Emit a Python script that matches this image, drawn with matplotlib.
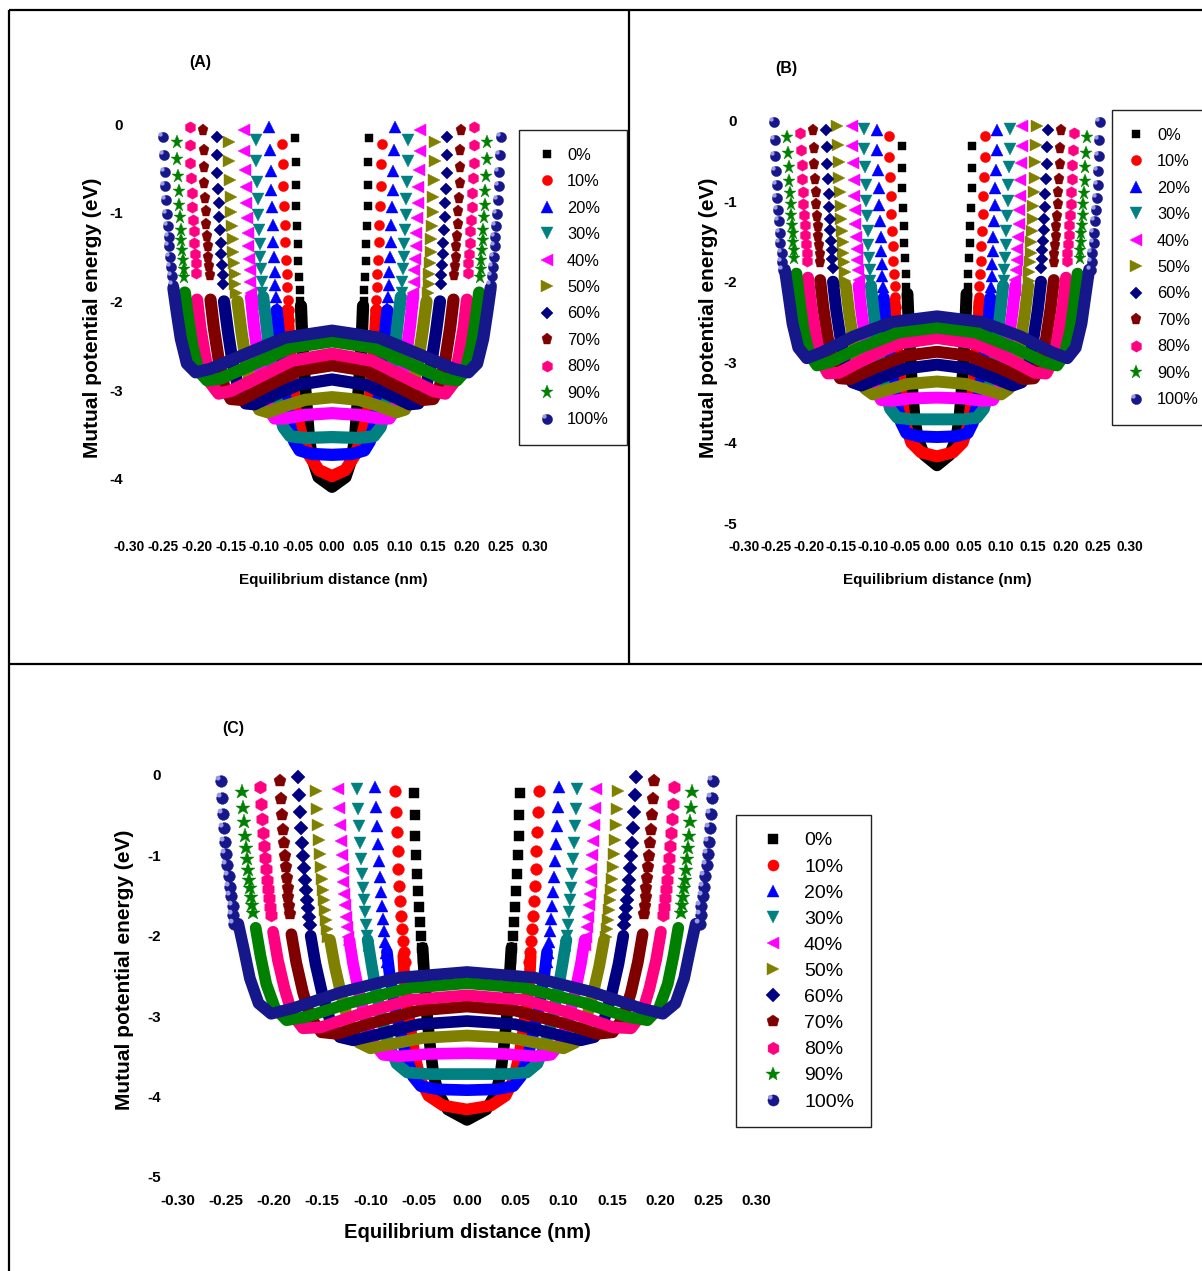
import matplotlib
matplotlib.use("Agg")
import matplotlib.pyplot as plt
from matplotlib import font_manager
from matplotlib.font_manager import FontProperties
from matplotlib.lines import Line2D
from matplotlib.path import Path
from matplotlib.legend_handler import HandlerTuple

W, H, DPI = 1202, 1271, 100


def has_font(name):
    try:
        font_manager.findfont(FontProperties(family=name), fallback_to_default=False)
        return True
    except Exception:
        return False


ARIAL = "Liberation Sans" if has_font("Liberation Sans") else "DejaVu Sans"

# ---------------------------------------------------------------- data
LABELS = ["0%", "10%", "20%", "30%", "40%", "50%", "60%", "70%", "80%", "90%", "100%"]
X_TICKS = [-0.30, -0.25, -0.20, -0.15, -0.10, -0.05, 0.00, 0.05, 0.10, 0.15, 0.20, 0.25, 0.30]
Y_TICKS_A = [0, -1, -2, -3, -4]
Y_TICKS_BC = [0, -1, -2, -3, -4, -5]

# right half (x >= 0) of each curve; the left half is its mirror image
# continuous part (trough) of each curve
A_BAND_X = [
    [0, 0.020, 0.030, 0.034, 0.037, 0.040, 0.043, 0.045, 0.046],
    [0, 0.020, 0.035, 0.045, 0.052, 0.057, 0.061, 0.064, 0.066],
    [0, 0.030, 0.048, 0.056, 0.063, 0.069, 0.074, 0.078, 0.082],
    [0, 0.040, 0.062, 0.072, 0.080, 0.087, 0.093, 0.098, 0.102],
    [0, 0.040, 0.070, 0.085, 0.095, 0.103, 0.110, 0.116, 0.120],
    [0, 0.040, 0.070, 0.095, 0.108, 0.118, 0.127, 0.134, 0.140],
    [0, 0.050, 0.090, 0.115, 0.128, 0.138, 0.147, 0.154, 0.160],
    [0, 0.050, 0.100, 0.135, 0.150, 0.160, 0.168, 0.175, 0.180],
    [0, 0.060, 0.110, 0.150, 0.168, 0.180, 0.188, 0.195, 0.200],
    [0, 0.060, 0.120, 0.165, 0.185, 0.198, 0.207, 0.213, 0.218],
    [0, 0.070, 0.130, 0.180, 0.202, 0.215, 0.224, 0.230, 0.235],
]
A_BAND_Y = [
    [-4.09, -3.98, -3.75, -3.55, -3.25, -2.95, -2.60, -2.25, -2.05],
    [-3.97, -3.90, -3.72, -3.50, -3.30, -3.05, -2.70, -2.35, -2.10],
    [-3.73, -3.72, -3.68, -3.58, -3.38, -3.10, -2.75, -2.40, -2.10],
    [-3.53, -3.54, -3.52, -3.42, -3.20, -2.90, -2.55, -2.20, -1.95],
    [-3.26, -3.28, -3.32, -3.32, -3.20, -2.95, -2.60, -2.25, -1.95],
    [-3.08, -3.11, -3.18, -3.25, -3.22, -3.05, -2.70, -2.35, -2.00],
    [-2.88, -2.94, -3.07, -3.16, -3.15, -3.00, -2.70, -2.35, -2.00],
    [-2.72, -2.78, -2.97, -3.11, -3.10, -2.95, -2.65, -2.30, -1.98],
    [-2.59, -2.67, -2.86, -3.01, -3.04, -2.92, -2.62, -2.30, -1.98],
    [-2.45, -2.52, -2.72, -2.87, -2.89, -2.78, -2.50, -2.20, -1.90],
    [-2.33, -2.41, -2.60, -2.76, -2.80, -2.70, -2.42, -2.12, -1.85],
]
# separated markers of the steep outer wall
A_WALL_X = [
    [0.055, 0.054, 0.054, 0.053, 0.052, 0.051, 0.050, 0.049, 0.048, 0.047, 0.046, 0.045],
    [0.074, 0.073, 0.072, 0.071, 0.070, 0.069, 0.068, 0.067, 0.066, 0.065, 0.064, 0.063],
    [0.093, 0.092, 0.091, 0.090, 0.089, 0.088, 0.087, 0.086, 0.085, 0.084, 0.083, 0.082, 0.081],
    [0.113, 0.112, 0.111, 0.110, 0.109, 0.108, 0.107, 0.106, 0.105, 0.104, 0.103, 0.102, 0.101],
    [0.130, 0.130, 0.129, 0.128, 0.127, 0.126, 0.125, 0.124, 0.123, 0.122, 0.121, 0.120, 0.119],
    [0.153, 0.152, 0.151, 0.150, 0.149, 0.148, 0.147, 0.146, 0.145, 0.144, 0.143, 0.142],
    [0.171, 0.171, 0.170, 0.169, 0.168, 0.167, 0.166, 0.165, 0.164, 0.163, 0.162, 0.161],
    [0.191, 0.190, 0.190, 0.189, 0.188, 0.187, 0.186, 0.185, 0.184, 0.183, 0.182, 0.181],
    [0.211, 0.210, 0.210, 0.209, 0.208, 0.207, 0.206, 0.205, 0.204, 0.203, 0.202, 0.201],
    [0.230, 0.229, 0.228, 0.227, 0.226, 0.225, 0.224, 0.223, 0.222, 0.221, 0.220, 0.219],
    [0.250, 0.249, 0.248, 0.247, 0.246, 0.245, 0.243, 0.242, 0.241, 0.240, 0.238, 0.237, 0.236],
]
A_WALL_Y = [
    [-0.16, -0.43, -0.69, -0.92, -1.15, -1.35, -1.55, -1.72, -1.87, -2.00, -2.12, -2.21],
    [-0.22, -0.45, -0.70, -0.92, -1.14, -1.33, -1.53, -1.69, -1.84, -1.98, -2.10, -2.21],
    [-0.03, -0.29, -0.53, -0.74, -0.94, -1.14, -1.33, -1.50, -1.67, -1.82, -1.95, -2.08, -2.19],
    [-0.18, -0.42, -0.65, -0.85, -1.03, -1.20, -1.35, -1.50, -1.64, -1.78, -1.91, -2.03, -2.14],
    [-0.07, -0.30, -0.52, -0.71, -0.89, -1.06, -1.23, -1.38, -1.52, -1.65, -1.78, -1.90, -2.02],
    [-0.20, -0.42, -0.63, -0.82, -0.99, -1.15, -1.30, -1.44, -1.57, -1.69, -1.80, -1.91],
    [-0.15, -0.35, -0.55, -0.73, -0.89, -1.05, -1.20, -1.34, -1.47, -1.59, -1.70, -1.80],
    [-0.07, -0.29, -0.48, -0.66, -0.83, -0.98, -1.13, -1.26, -1.38, -1.50, -1.60, -1.70],
    [-0.03, -0.24, -0.44, -0.61, -0.78, -0.94, -1.08, -1.21, -1.34, -1.46, -1.57, -1.68],
    [-0.20, -0.40, -0.59, -0.75, -0.91, -1.05, -1.19, -1.31, -1.42, -1.53, -1.63, -1.72],
    [-0.15, -0.35, -0.54, -0.70, -0.86, -1.01, -1.15, -1.27, -1.38, -1.50, -1.61, -1.71, -1.82],
]

B_BAND_X = [
    [0, 0.020, 0.030, 0.035, 0.038, 0.041, 0.043, 0.045, 0.046],
    [0, 0.025, 0.040, 0.048, 0.054, 0.058, 0.062, 0.065, 0.066],
    [0, 0.030, 0.048, 0.056, 0.063, 0.069, 0.075, 0.080, 0.083],
    [0, 0.040, 0.062, 0.073, 0.081, 0.088, 0.094, 0.099, 0.103],
    [0, 0.040, 0.070, 0.087, 0.097, 0.105, 0.112, 0.118, 0.122],
    [0, 0.045, 0.080, 0.100, 0.112, 0.122, 0.130, 0.137, 0.142],
    [0, 0.050, 0.090, 0.118, 0.132, 0.142, 0.150, 0.157, 0.162],
    [0, 0.050, 0.100, 0.135, 0.151, 0.162, 0.170, 0.177, 0.182],
    [0, 0.060, 0.110, 0.152, 0.170, 0.181, 0.189, 0.196, 0.201],
    [0, 0.060, 0.120, 0.167, 0.187, 0.199, 0.208, 0.214, 0.219],
    [0, 0.070, 0.130, 0.180, 0.203, 0.216, 0.225, 0.231, 0.237],
]
B_BAND_Y = [
    [-4.28, -4.15, -3.95, -3.70, -3.40, -3.05, -2.70, -2.35, -2.15],
    [-4.17, -4.12, -4.00, -3.80, -3.50, -3.20, -2.85, -2.50, -2.25],
    [-3.93, -3.92, -3.88, -3.75, -3.50, -3.20, -2.85, -2.50, -2.20],
    [-3.71, -3.71, -3.69, -3.58, -3.35, -3.05, -2.70, -2.35, -2.05],
    [-3.44, -3.45, -3.48, -3.47, -3.33, -3.05, -2.70, -2.35, -2.05],
    [-3.24, -3.27, -3.35, -3.40, -3.33, -3.10, -2.75, -2.38, -2.05],
    [-3.03, -3.08, -3.20, -3.29, -3.25, -3.05, -2.72, -2.35, -2.00],
    [-2.87, -2.92, -3.08, -3.21, -3.20, -3.02, -2.70, -2.33, -1.98],
    [-2.70, -2.77, -2.95, -3.13, -3.14, -2.98, -2.66, -2.30, -1.95],
    [-2.57, -2.63, -2.82, -3.00, -3.04, -2.90, -2.60, -2.25, -1.90],
    [-2.43, -2.50, -2.68, -2.88, -2.95, -2.82, -2.52, -2.18, -1.85],
]
B_WALL_X = [
    [0.055, 0.054, 0.054, 0.053, 0.052, 0.051, 0.050, 0.049, 0.048, 0.047, 0.046],
    [0.075, 0.074, 0.073, 0.072, 0.071, 0.070, 0.069, 0.068, 0.067, 0.066, 0.065, 0.064],
    [0.094, 0.093, 0.092, 0.091, 0.090, 0.089, 0.088, 0.087, 0.086, 0.085, 0.084, 0.083, 0.082],
    [0.114, 0.113, 0.112, 0.111, 0.110, 0.109, 0.108, 0.107, 0.106, 0.105, 0.104, 0.103, 0.102],
    [0.133, 0.132, 0.131, 0.130, 0.129, 0.128, 0.127, 0.126, 0.125, 0.124, 0.123, 0.122, 0.121],
    [0.155, 0.154, 0.153, 0.152, 0.151, 0.150, 0.149, 0.148, 0.147, 0.146, 0.145, 0.144, 0.143],
    [0.173, 0.172, 0.171, 0.170, 0.169, 0.168, 0.167, 0.166, 0.165, 0.164, 0.163, 0.162],
    [0.193, 0.192, 0.191, 0.190, 0.189, 0.188, 0.187, 0.186, 0.185, 0.184, 0.183, 0.182],
    [0.213, 0.212, 0.211, 0.210, 0.209, 0.208, 0.207, 0.206, 0.205, 0.204, 0.203, 0.202],
    [0.233, 0.232, 0.231, 0.230, 0.229, 0.228, 0.227, 0.226, 0.225, 0.224, 0.223, 0.222],
    [0.254, 0.253, 0.252, 0.251, 0.250, 0.249, 0.248, 0.246, 0.245, 0.244, 0.242, 0.241, 0.240],
]
B_WALL_Y = [
    [-0.31, -0.59, -0.84, -1.08, -1.31, -1.52, -1.71, -1.90, -2.06, -2.21, -2.35],
    [-0.19, -0.45, -0.70, -0.94, -1.16, -1.37, -1.56, -1.74, -1.90, -2.05, -2.19, -2.32],
    [-0.11, -0.37, -0.61, -0.84, -1.05, -1.25, -1.44, -1.62, -1.78, -1.93, -2.07, -2.20, -2.32],
    [-0.10, -0.35, -0.58, -0.80, -1.00, -1.19, -1.37, -1.54, -1.70, -1.85, -1.99, -2.12, -2.24],
    [-0.07, -0.31, -0.53, -0.74, -0.93, -1.11, -1.28, -1.44, -1.59, -1.73, -1.86, -1.98, -2.10],
    [-0.07, -0.30, -0.51, -0.71, -0.89, -1.06, -1.22, -1.37, -1.51, -1.64, -1.76, -1.88, -1.99],
    [-0.11, -0.33, -0.54, -0.73, -0.91, -1.07, -1.22, -1.36, -1.49, -1.61, -1.72, -1.83],
    [-0.12, -0.34, -0.54, -0.72, -0.89, -1.04, -1.18, -1.31, -1.43, -1.55, -1.66, -1.76],
    [-0.15, -0.36, -0.55, -0.72, -0.88, -1.03, -1.17, -1.30, -1.42, -1.53, -1.64, -1.74],
    [-0.20, -0.40, -0.58, -0.75, -0.90, -1.04, -1.17, -1.29, -1.40, -1.51, -1.61, -1.71],
    [-0.02, -0.24, -0.44, -0.62, -0.80, -0.96, -1.11, -1.25, -1.40, -1.52, -1.64, -1.75, -1.86],
]

C_BAND_X = B_BAND_X
C_BAND_Y = [
    [-4.29, -4.16, -3.96, -3.70, -3.40, -3.05, -2.70, -2.35, -2.15],
    [-4.16, -4.11, -3.99, -3.80, -3.50, -3.20, -2.85, -2.50, -2.25],
    [-3.92, -3.91, -3.87, -3.75, -3.50, -3.20, -2.85, -2.50, -2.20],
    [-3.72, -3.72, -3.70, -3.59, -3.35, -3.05, -2.70, -2.35, -2.05],
    [-3.46, -3.47, -3.50, -3.48, -3.33, -3.05, -2.70, -2.35, -2.05],
    [-3.24, -3.27, -3.35, -3.40, -3.33, -3.10, -2.75, -2.38, -2.05],
    [-3.06, -3.10, -3.22, -3.30, -3.26, -3.05, -2.72, -2.35, -2.00],
    [-2.88, -2.93, -3.09, -3.22, -3.20, -3.02, -2.70, -2.33, -1.98],
    [-2.74, -2.80, -2.97, -3.14, -3.15, -2.98, -2.66, -2.30, -1.95],
    [-2.59, -2.65, -2.83, -3.01, -3.05, -2.90, -2.60, -2.25, -1.90],
    [-2.45, -2.52, -2.70, -2.90, -2.97, -2.84, -2.53, -2.18, -1.85],
]
C_WALL_X = [
    [0.055, 0.054, 0.054, 0.053, 0.052, 0.051, 0.050, 0.049, 0.048, 0.047, 0.046],
    [0.075, 0.074, 0.073, 0.072, 0.071, 0.070, 0.069, 0.068, 0.067, 0.066, 0.065, 0.064],
    [0.095, 0.094, 0.093, 0.092, 0.091, 0.090, 0.089, 0.088, 0.087, 0.086, 0.085, 0.084, 0.083],
    [0.114, 0.113, 0.112, 0.111, 0.110, 0.109, 0.108, 0.107, 0.106, 0.105, 0.104, 0.103, 0.102],
    [0.134, 0.133, 0.132, 0.131, 0.130, 0.129, 0.128, 0.127, 0.126, 0.125, 0.124, 0.123, 0.122],
    [0.156, 0.155, 0.154, 0.153, 0.152, 0.151, 0.150, 0.149, 0.148, 0.147, 0.146, 0.145, 0.144],
    [0.175, 0.174, 0.173, 0.172, 0.171, 0.170, 0.169, 0.168, 0.167, 0.166, 0.165, 0.164, 0.163],
    [0.194, 0.193, 0.192, 0.191, 0.190, 0.189, 0.188, 0.187, 0.186, 0.185, 0.184, 0.183],
    [0.214, 0.213, 0.212, 0.211, 0.210, 0.209, 0.208, 0.207, 0.206, 0.205, 0.204, 0.203],
    [0.233, 0.232, 0.231, 0.230, 0.229, 0.228, 0.227, 0.226, 0.225, 0.224, 0.223, 0.222],
    [0.255, 0.254, 0.253, 0.252, 0.251, 0.250, 0.249, 0.247, 0.246, 0.245, 0.243, 0.242, 0.241],
]
C_WALL_Y = [
    [-0.22, -0.50, -0.76, -1.00, -1.23, -1.44, -1.64, -1.83, -2.00, -2.15, -2.29],
    [-0.20, -0.46, -0.71, -0.95, -1.17, -1.38, -1.57, -1.75, -1.91, -2.06, -2.20, -2.32],
    [-0.15, -0.40, -0.64, -0.86, -1.07, -1.27, -1.46, -1.63, -1.79, -1.94, -2.08, -2.21, -2.33],
    [-0.18, -0.42, -0.64, -0.85, -1.05, -1.23, -1.40, -1.56, -1.71, -1.86, -2.00, -2.13, -2.25],
    [-0.18, -0.41, -0.62, -0.82, -1.00, -1.17, -1.33, -1.48, -1.62, -1.76, -1.89, -2.01, -2.12],
    [-0.20, -0.42, -0.62, -0.81, -0.98, -1.14, -1.29, -1.43, -1.56, -1.68, -1.80, -1.91, -2.01],
    [-0.02, -0.25, -0.46, -0.66, -0.84, -1.01, -1.16, -1.30, -1.43, -1.55, -1.66, -1.77, -1.87],
    [-0.08, -0.30, -0.50, -0.68, -0.85, -1.01, -1.15, -1.28, -1.40, -1.52, -1.63, -1.73],
    [-0.15, -0.36, -0.55, -0.72, -0.88, -1.03, -1.17, -1.30, -1.42, -1.53, -1.64, -1.74],
    [-0.21, -0.41, -0.59, -0.76, -0.91, -1.05, -1.18, -1.30, -1.41, -1.52, -1.62, -1.72],
    [-0.08, -0.29, -0.48, -0.66, -0.83, -0.98, -1.12, -1.26, -1.39, -1.51, -1.63, -1.74, -1.85],
]

# ---------------------------------------------------------------- styles
MARKERS = ["s", "o", "^", "v", "<", ">", "D", "p", "h", "*", "o"]
COLORS = ["#000000", "#ff0000", "#0000ff", "#008080", "#ff00ff", "#808000",
          "#000080", "#800000", "#ff0080", "#008000", "#17178c"]
MSIZE = [6.2, 7.3, 8.0, 8.0, 8.0, 8.0, 6.2, 8.2, 8.2, 9.8, 7.3]
HILITE = "#9a9ae0"
# small light spot at the upper left of the sphere markers (same nominal size as the sphere)
SPOT = Path.circle(center=(-0.28, 0.28), radius=0.2)

fig = plt.figure(figsize=(W / DPI, H / DPI), dpi=DPI)
fig.patch.set_facecolor("white")
RENDERER = fig.canvas.get_renderer()


def fx(px):
    return px / W


def fy(py):
    return 1 - py / H


def arial_fp(size, weight="bold"):
    return FontProperties(family=ARIAL, size=size, weight=weight)


def fit_size(text, weight, target_px, base=12.0, max_size=None):
    """font size so that `text` is about target_px wide"""
    t = fig.text(0, 0, text, fontproperties=arial_fp(base, weight))
    w = t.get_window_extent(RENDERER).width
    t.remove()
    s = base * target_px / max(w, 1.0)
    if max_size is not None:
        s = min(s, max_size)
    return s


def place_axes(x0, kx, xlim, y0, ky, ylim):
    left = x0 + xlim[0] * kx
    right = x0 + xlim[1] * kx
    top = y0 - ylim[1] * ky
    bottom = y0 - ylim[0] * ky
    ax = fig.add_axes([fx(left), fy(bottom), (right - left) / W, (bottom - top) / H])
    ax.set_xlim(*xlim)
    ax.set_ylim(*ylim)
    ax.patch.set_alpha(0)
    for s in ax.spines.values():
        s.set_visible(False)
    return ax


def draw_curves(ax, band_x, band_y, wall_x, wall_y, ms_scale, band_lw):
    for i in range(len(LABELS)):
        bx = [-v for v in band_x[i][::-1]] + band_x[i][1:]
        by = band_y[i][::-1] + band_y[i][1:]
        ax.plot(bx, by, "-", color=COLORS[i], lw=band_lw, solid_capstyle="round",
                solid_joinstyle="round", zorder=2 + i, clip_on=False)
        wx = [-v for v in wall_x[i]] + wall_x[i]
        wy = wall_y[i] + wall_y[i]
        ax.plot(wx, wy, ls="none", marker=MARKERS[i], ms=MSIZE[i] * ms_scale,
                mfc=COLORS[i], mec=COLORS[i], mew=0.3, zorder=2 + i, clip_on=False)
        if i == len(LABELS) - 1:
            ax.plot(wx, wy, ls="none", marker=SPOT, ms=MSIZE[i] * ms_scale, mfc=HILITE, mec="none",
                    zorder=2.5 + i, clip_on=False)


def style_ticks(ax, yticks, xfp, yfp, xpad, ypad):
    ax.set_xticks(X_TICKS)
    ax.set_xticklabels([f"{v:.2f}" for v in X_TICKS], fontproperties=xfp)
    ax.set_yticks(yticks)
    ax.set_yticklabels([f"{v:d}" for v in yticks], fontproperties=yfp)
    ax.tick_params(axis="x", length=0, pad=xpad)
    ax.tick_params(axis="y", length=0, pad=ypad)


def add_legend(ax, left_px, top_px, fp, ms_scale, marker_off, text_off, pitch=26.4, first_off=23.0):
    fs = fp.get_size_in_points() * DPI / 72.0
    labelspacing = pitch / fs - 0.91
    borderpad = first_off / fs - 0.32
    handlelength = 2 * (marker_off / fs - borderpad)
    handletextpad = text_off / fs - borderpad - handlelength
    handles = []
    for i in range(len(LABELS)):
        h = Line2D([], [], ls="none", marker=MARKERS[i], ms=MSIZE[i] * ms_scale,
                   mfc=COLORS[i], mec=COLORS[i], mew=0.3)
        if i == len(LABELS) - 1:
            h = (h, Line2D([], [], ls="none", marker=SPOT, ms=MSIZE[i] * ms_scale, mfc=HILITE, mec="none"))
        handles.append(h)
    leg = ax.legend(handles, LABELS, loc="upper left", bbox_to_anchor=(fx(left_px), fy(top_px)),
                    bbox_transform=fig.transFigure, frameon=True, fancybox=False, shadow=False,
                    framealpha=1, edgecolor="#222222", prop=fp,
                    labelspacing=labelspacing, borderpad=borderpad, handlelength=handlelength,
                    handletextpad=handletextpad, borderaxespad=0,
                    handler_map={tuple: HandlerTuple(ndivide=1, pad=0)})
    leg.get_frame().set_linewidth(1.0)
    leg.set_zorder(50)
    return leg


def set_labels(ax, xlab_px, ylab_px, xfp, yfp):
    ax.set_xlabel("Equilibrium distance (nm)", fontproperties=xfp, va="center", ha="center")
    ax.xaxis.set_label_coords(fx(xlab_px[0]), fy(xlab_px[1]), transform=fig.transFigure)
    ax.set_ylabel("Mutual potential energy (eV)", fontproperties=yfp, va="center", ha="center")
    ax.yaxis.set_label_coords(fx(ylab_px[0]), fy(ylab_px[1]), transform=fig.transFigure)
    ax.yaxis.label.set_rotation_mode("anchor")


# font sizes fitted to the widths measured on the reference (A and B use squeezed text)
TICK_AB = arial_fp(fit_size("-0.30", "bold", 31, max_size=12))
XLAB_AB = arial_fp(fit_size("Equilibrium distance (nm)", "bold", 186, max_size=13.5))
LEG_AB = arial_fp(fit_size("100%", "normal", 42, max_size=14), "normal")
YLAB = arial_fp(15)
YTICK = arial_fp(11)
TITLE = arial_fp(11.5)

# ---------------------------------------------------------------- panel A
axA = place_axes(332, 675, (-0.30, 0.30), 124, 88.7, (-4.645, 0.15))
draw_curves(axA, A_BAND_X, A_BAND_Y, A_WALL_X, A_WALL_Y, 1.0, 8.8)
style_ticks(axA, Y_TICKS_A, TICK_AB, YTICK, 3.0, 4.7)
set_labels(axA, (333, 580), (93, 318), XLAB_AB, YLAB)
add_legend(axA, 519, 130, LEG_AB, 1.0, 28, 48)
fig.text(fx(200), fy(62), "(A)", fontproperties=TITLE, ha="center", va="center")

# ---------------------------------------------------------------- panel B
axB = place_axes(937, 642, (-0.30, 0.30), 120.7, 80.5, (-5.16, 0.15))
draw_curves(axB, B_BAND_X, B_BAND_Y, B_WALL_X, B_WALL_Y, 1.0, 8.6)
style_ticks(axB, Y_TICKS_BC, TICK_AB, YTICK, 3.0, 5.3)
set_labels(axB, (937, 580), (708, 318), XLAB_AB, YLAB)
add_legend(axB, 1112, 110, LEG_AB, 1.0, 24, 45)
fig.text(fx(786), fy(68), "(B)", fontproperties=TITLE, ha="center", va="center")

# ---------------------------------------------------------------- panel C
axC = place_axes(467, 965, (-0.30, 0.30), 775, 80.4, (-5.16, 0.15))
draw_curves(axC, C_BAND_X, C_BAND_Y, C_WALL_X, C_WALL_Y, 1.15, 8.4)
style_ticks(axC, Y_TICKS_BC, arial_fp(11), YTICK, 3.3, 11.9)
set_labels(axC, (467, 1233), (125, 970), arial_fp(14.5), YLAB)
add_legend(axC, 736, 815, arial_fp(14, "normal"), 1.1, 37, 68, pitch=26.2, first_off=23.0)
fig.text(fx(233), fy(728), "(C)", fontproperties=TITLE, ha="center", va="center")

# ---------------------------------------------------------------- frame lines
for (x0, y0, x1, y1) in [(9, 10, W, 10), (9, 10, 9, H), (629, 10, 629, 664), (9, 664, W, 664)]:
    fig.add_artist(Line2D([fx(x0), fx(x1)], [fy(y0), fy(y1)], transform=fig.transFigure,
                          color="black", lw=1.6, solid_capstyle="butt"))

fig.savefig("out.png", dpi=DPI, facecolor="white")
